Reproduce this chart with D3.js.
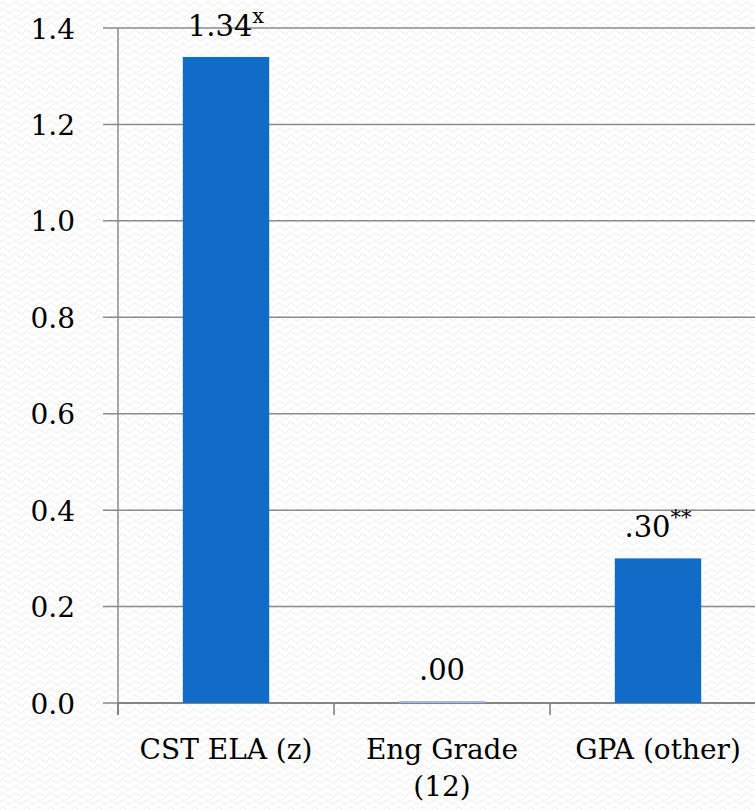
<!DOCTYPE html>
<html><head><meta charset="utf-8">
<script src="https://cdn.jsdelivr.net/npm/d3@7"></script>
<style>body{margin:0;background:#fff;}svg{display:block;}</style>
</head><body>
<svg id="c" width="755" height="809"></svg>
<script>
const categories = ["CST ELA (z)", "Eng Grade (12)", "GPA (other)"];
const categoryLines = [["CST ELA (z)"], ["Eng Grade", "(12)"], ["GPA (other)"]];
const values = [1.34, 0.004, 0.30];
const valueLabels = ["1.34", ".00", ".30"];
const valueSup = ["x", "", "**"];
const yTicks = [0, 0.2, 0.4, 0.6, 0.8, 1.0, 1.2, 1.4];

const svg = d3.select("#c");
const font = "DejaVu Serif";

// subtle background pattern
const defs = svg.append("defs");
const pat = defs.append("pattern").attr("id","wv").attr("width",12).attr("height",7).attr("patternUnits","userSpaceOnUse");
pat.append("path").attr("d","M0,4 Q3,0 6,4 T12,4").attr("fill","none").attr("stroke","#ebebeb").attr("stroke-width",1);
svg.append("rect").attr("width",755).attr("height",809).attr("fill","#fff");
svg.append("rect").attr("width",755).attr("height",809).attr("fill","url(#wv)");

const x0 = 118, bandW = 216;
const x = d3.scaleBand().domain(categories).range([x0, x0 + bandW*3]).paddingInner(0.6).paddingOuter(0.3);
const y = d3.scaleLinear().domain([0, 1.4]).range([703, 28]);

// gridlines
svg.append("g").selectAll("line").data(yTicks).join("line")
  .attr("x1", 103).attr("x2", 755)
  .attr("y1", d => y(d)).attr("y2", d => y(d))
  .attr("stroke", "#8a8a8a").attr("stroke-width", 1.5);

// y axis
const yAxis = d3.axisLeft(y).tickValues(yTicks).tickFormat(d3.format(".1f")).tickSize(0).tickPadding(43);
const ya = svg.append("g").attr("transform", `translate(${x0},0)`).call(yAxis);
ya.attr("font-family", null).attr("font-size", null);
ya.select(".domain").remove();
ya.selectAll("text").attr("font-family", font).attr("font-size", 28).attr("fill","#000").attr("dy","0.36em");

svg.append("line").attr("x1",x0).attr("x2",x0).attr("y1",y(1.4)).attr("y2",715).attr("stroke","#8a8a8a").attr("stroke-width",1.5);

// x axis line
svg.append("line").attr("x1",x0).attr("x2",755).attr("y1",y(0)).attr("y2",y(0)).attr("stroke","#7a7a7a").attr("stroke-width",1.5);
const bounds = [0,1,2].map(i => x0 + bandW*i);
svg.selectAll("line.xt").data(bounds).join("line")
  .attr("x1", d => d).attr("x2", d => d).attr("y1", y(0)).attr("y2", 715)
  .attr("stroke","#7a7a7a").attr("stroke-width",1.5);

// bars
svg.selectAll("rect.bar").data(values).join("rect")
  .attr("class","bar")
  .attr("x", (d,i) => x(categories[i]))
  .attr("width", x.bandwidth())
  .attr("y", d => y(d))
  .attr("height", d => Math.max(0, y(0) - y(d)))
  .attr("fill", (d,i) => i === 1 ? "#9bb8e6" : "#106cc6");

// category labels
categoryLines.forEach((lines, i) => {
  const cx = x(categories[i]) + x.bandwidth()/2;
  const t = svg.append("text").attr("x", cx).attr("y", 759).attr("text-anchor","middle")
    .attr("font-family", font).attr("font-size", 28).attr("fill","#000");
  lines.forEach((l, j) => t.append("tspan").attr("x", cx).attr("dy", j ? 37 : 0).text(l));
});

// value labels
values.forEach((v, i) => {
  const cx = x(categories[i]) + x.bandwidth()/2;
  const t = svg.append("text").attr("x", cx).attr("y", y(v) - 21).attr("text-anchor","middle")
    .attr("font-family", font).attr("font-size", 29).attr("fill","#000");
  t.append("tspan").text(valueLabels[i]);
  if (valueSup[i]) t.append("tspan").attr("dy", -13).attr("font-size", 21).text(valueSup[i]);
});
</script>
</body></html>
